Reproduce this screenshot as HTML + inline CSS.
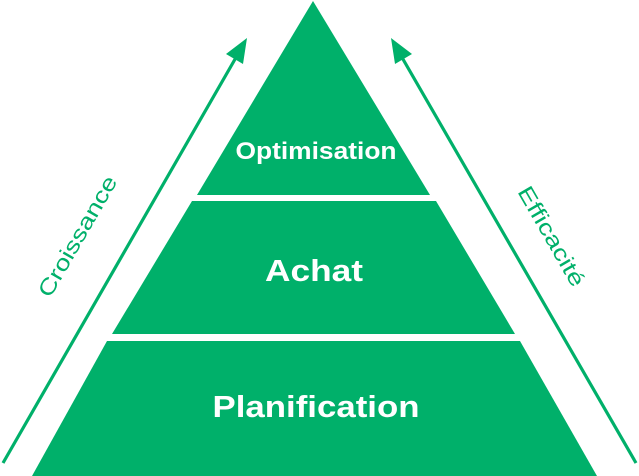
<!DOCTYPE html>
<html><head><style>
html,body{margin:0;padding:0;background:#fff;}
svg{display:block;}
</style></head><body>
<svg width="639" height="476" viewBox="0 0 639 476" xmlns="http://www.w3.org/2000/svg">
<g fill="#00B06A">
<polygon points="313,1 430,195 197,195"/>
<polygon points="192,201 436,201 515,334 112,334"/>
<polygon points="107,341 520,341 597,476 32,476"/>
</g>
<g stroke="#00B06A" stroke-width="3.2" fill="none">
<line x1="3" y1="463" x2="238" y2="54"/>
<line x1="636" y1="463" x2="400" y2="54"/>
</g>
<g fill="#00B06A">
<polygon points="247,38 243,64 226,54"/>
<polygon points="391,38 395,64 412,54"/>
</g>
<g font-family="Liberation Sans, sans-serif" font-weight="bold" fill="#fff" text-anchor="middle">
<text x="316" y="159" font-size="24" textLength="161" lengthAdjust="spacingAndGlyphs">Optimisation</text>
<text x="314" y="281" font-size="31" textLength="98" lengthAdjust="spacingAndGlyphs">Achat</text>
<text x="316" y="417" font-size="31" textLength="207" lengthAdjust="spacingAndGlyphs">Planification</text>
</g>
<g font-family="Liberation Sans, sans-serif" fill="#00B06A" font-size="22" text-anchor="middle">
<text x="0" y="0" transform="translate(84,240) rotate(-60)" textLength="136" lengthAdjust="spacingAndGlyphs">Croissance</text>
<text x="0" y="0" transform="translate(545,240) rotate(60)" textLength="112" lengthAdjust="spacingAndGlyphs">Efficacité</text>
</g>
</svg>
</body></html>
